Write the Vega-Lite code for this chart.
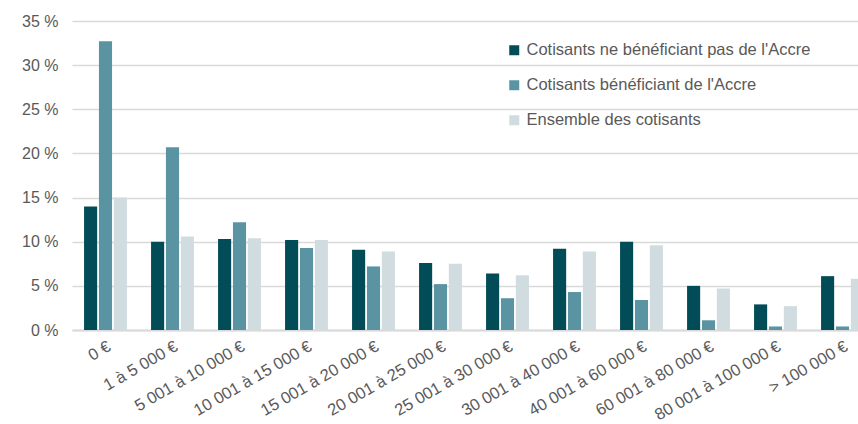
{
  "$schema": "https://vega.github.io/schema/vega-lite/v6.json",
  "autosize": "none",
  "width": 804,
  "height": 309,
  "padding": {"left": 72, "top": 21, "right": 0, "bottom": 94},
  "background": "white",
  "config": {
    "font": "Liberation Sans",
    "view": {"stroke": null}
  },
  "data": {
    "values": [
      {"tranche": "0 €", "serie": "Cotisants ne bénéficiant pas de l'Accre", "valeur": 14.0},
      {"tranche": "0 €", "serie": "Cotisants bénéficiant de l'Accre", "valeur": 32.7},
      {"tranche": "0 €", "serie": "Ensemble des cotisants", "valeur": 15.0},
      {"tranche": "1 à 5 000 €", "serie": "Cotisants ne bénéficiant pas de l'Accre", "valeur": 10.0},
      {"tranche": "1 à 5 000 €", "serie": "Cotisants bénéficiant de l'Accre", "valeur": 20.7},
      {"tranche": "1 à 5 000 €", "serie": "Ensemble des cotisants", "valeur": 10.6},
      {"tranche": "5 001 à 10 000 €", "serie": "Cotisants ne bénéficiant pas de l'Accre", "valeur": 10.3},
      {"tranche": "5 001 à 10 000 €", "serie": "Cotisants bénéficiant de l'Accre", "valeur": 12.2},
      {"tranche": "5 001 à 10 000 €", "serie": "Ensemble des cotisants", "valeur": 10.4},
      {"tranche": "10 001 à 15 000 €", "serie": "Cotisants ne bénéficiant pas de l'Accre", "valeur": 10.2},
      {"tranche": "10 001 à 15 000 €", "serie": "Cotisants bénéficiant de l'Accre", "valeur": 9.3},
      {"tranche": "10 001 à 15 000 €", "serie": "Ensemble des cotisants", "valeur": 10.2},
      {"tranche": "15 001 à 20 000 €", "serie": "Cotisants ne bénéficiant pas de l'Accre", "valeur": 9.1},
      {"tranche": "15 001 à 20 000 €", "serie": "Cotisants bénéficiant de l'Accre", "valeur": 7.2},
      {"tranche": "15 001 à 20 000 €", "serie": "Ensemble des cotisants", "valeur": 8.9},
      {"tranche": "20 001 à 25 000 €", "serie": "Cotisants ne bénéficiant pas de l'Accre", "valeur": 7.6},
      {"tranche": "20 001 à 25 000 €", "serie": "Cotisants bénéficiant de l'Accre", "valeur": 5.2},
      {"tranche": "20 001 à 25 000 €", "serie": "Ensemble des cotisants", "valeur": 7.5},
      {"tranche": "25 001 à 30 000 €", "serie": "Cotisants ne bénéficiant pas de l'Accre", "valeur": 6.4},
      {"tranche": "25 001 à 30 000 €", "serie": "Cotisants bénéficiant de l'Accre", "valeur": 3.6},
      {"tranche": "25 001 à 30 000 €", "serie": "Ensemble des cotisants", "valeur": 6.2},
      {"tranche": "30 001 à 40 000 €", "serie": "Cotisants ne bénéficiant pas de l'Accre", "valeur": 9.2},
      {"tranche": "30 001 à 40 000 €", "serie": "Cotisants bénéficiant de l'Accre", "valeur": 4.3},
      {"tranche": "30 001 à 40 000 €", "serie": "Ensemble des cotisants", "valeur": 8.9},
      {"tranche": "40 001 à 60 000 €", "serie": "Cotisants ne bénéficiant pas de l'Accre", "valeur": 10.0},
      {"tranche": "40 001 à 60 000 €", "serie": "Cotisants bénéficiant de l'Accre", "valeur": 3.4},
      {"tranche": "40 001 à 60 000 €", "serie": "Ensemble des cotisants", "valeur": 9.6},
      {"tranche": "60 001 à 80 000 €", "serie": "Cotisants ne bénéficiant pas de l'Accre", "valeur": 5.0},
      {"tranche": "60 001 à 80 000 €", "serie": "Cotisants bénéficiant de l'Accre", "valeur": 1.1},
      {"tranche": "60 001 à 80 000 €", "serie": "Ensemble des cotisants", "valeur": 4.7},
      {"tranche": "80 001 à 100 000 €", "serie": "Cotisants ne bénéficiant pas de l'Accre", "valeur": 2.9},
      {"tranche": "80 001 à 100 000 €", "serie": "Cotisants bénéficiant de l'Accre", "valeur": 0.4},
      {"tranche": "80 001 à 100 000 €", "serie": "Ensemble des cotisants", "valeur": 2.7},
      {"tranche": "> 100 000 €", "serie": "Cotisants ne bénéficiant pas de l'Accre", "valeur": 6.1},
      {"tranche": "> 100 000 €", "serie": "Cotisants bénéficiant de l'Accre", "valeur": 0.4},
      {"tranche": "> 100 000 €", "serie": "Ensemble des cotisants", "valeur": 5.8}
    ]
  },
  "mark": {"type": "bar"},
  "encoding": {
    "x": {
      "field": "tranche",
      "type": "nominal",
      "sort": null,
      "scale": {"paddingInner": 0.36, "paddingOuter": 0.18},
      "axis": {
        "title": null,
        "labelAngle": -30,
        "labelFontSize": 16.5,
        "labelColor": "#595959",
        "labelAlign": "right",
        "labelBaseline": "top",
        "labelPadding": 8,
        "labelLimit": 300,
        "ticks": false,
        "domainColor": "#d9d9d9",
        "domainWidth": 2,
        "grid": false
      }
    },
    "xOffset": {
      "field": "serie",
      "type": "nominal",
      "sort": null,
      "scale": {"paddingInner": 0.12}
    },
    "y": {
      "field": "valeur",
      "type": "quantitative",
      "scale": {"domain": [0, 35], "nice": false},
      "axis": {
        "title": null,
        "values": [0, 5, 10, 15, 20, 25, 30, 35],
        "labelExpr": "datum.value + ' %'",
        "labelFontSize": 16,
        "labelColor": "#595959",
        "labelPadding": 14,
        "ticks": false,
        "domain": false,
        "gridColor": "#d9d9d9",
        "gridWidth": 1.5
      }
    },
    "color": {
      "field": "serie",
      "type": "nominal",
      "sort": null,
      "scale": {
        "domain": ["Cotisants ne bénéficiant pas de l'Accre", "Cotisants bénéficiant de l'Accre", "Ensemble des cotisants"],
        "range": ["#014c57", "#5a94a2", "#d0dce0"]
      },
      "legend": {
        "title": null,
        "orient": "none",
        "legendX": 434,
        "legendY": 21,
        "symbolType": "square",
        "symbolSize": 100,
        "symbolStrokeWidth": 0,
        "labelFontSize": 16.5,
        "labelLimit": 400,
        "labelColor": "#595959",
        "rowPadding": 18,
        "labelOffset": 4
      }
    }
  }
}
